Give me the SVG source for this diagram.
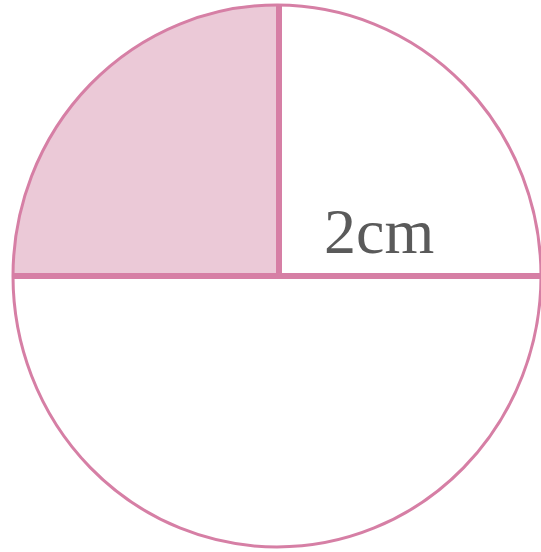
<svg xmlns="http://www.w3.org/2000/svg" width="541" height="552" viewBox="0 0 541 552">
<style>
.ln{stroke:#d67fa5;fill:none;}
.lbl{font-family:"Liberation Serif","DejaVu Serif",serif;font-size:64px;fill:#5a5a5a;}
</style>
<rect width="541" height="552" fill="#ffffff"/>
<g id="shade">
<path d="M279,276 L13,276 A264,271 0 0 1 279,4 Z" fill="#ebc9d7"/>
</g>
<g id="circle">
<ellipse class="ln" cx="277" cy="276" rx="264" ry="271" stroke-width="3"/>
</g>
<g id="connectors">
<line class="ln" x1="13" y1="276" x2="540" y2="276" stroke-width="6"/>
<line class="ln" x1="279" y1="4" x2="279" y2="276" stroke-width="6"/>
</g>
<g id="label">
<text class="lbl" x="324" y="253">2cm</text>
</g>
</svg>
